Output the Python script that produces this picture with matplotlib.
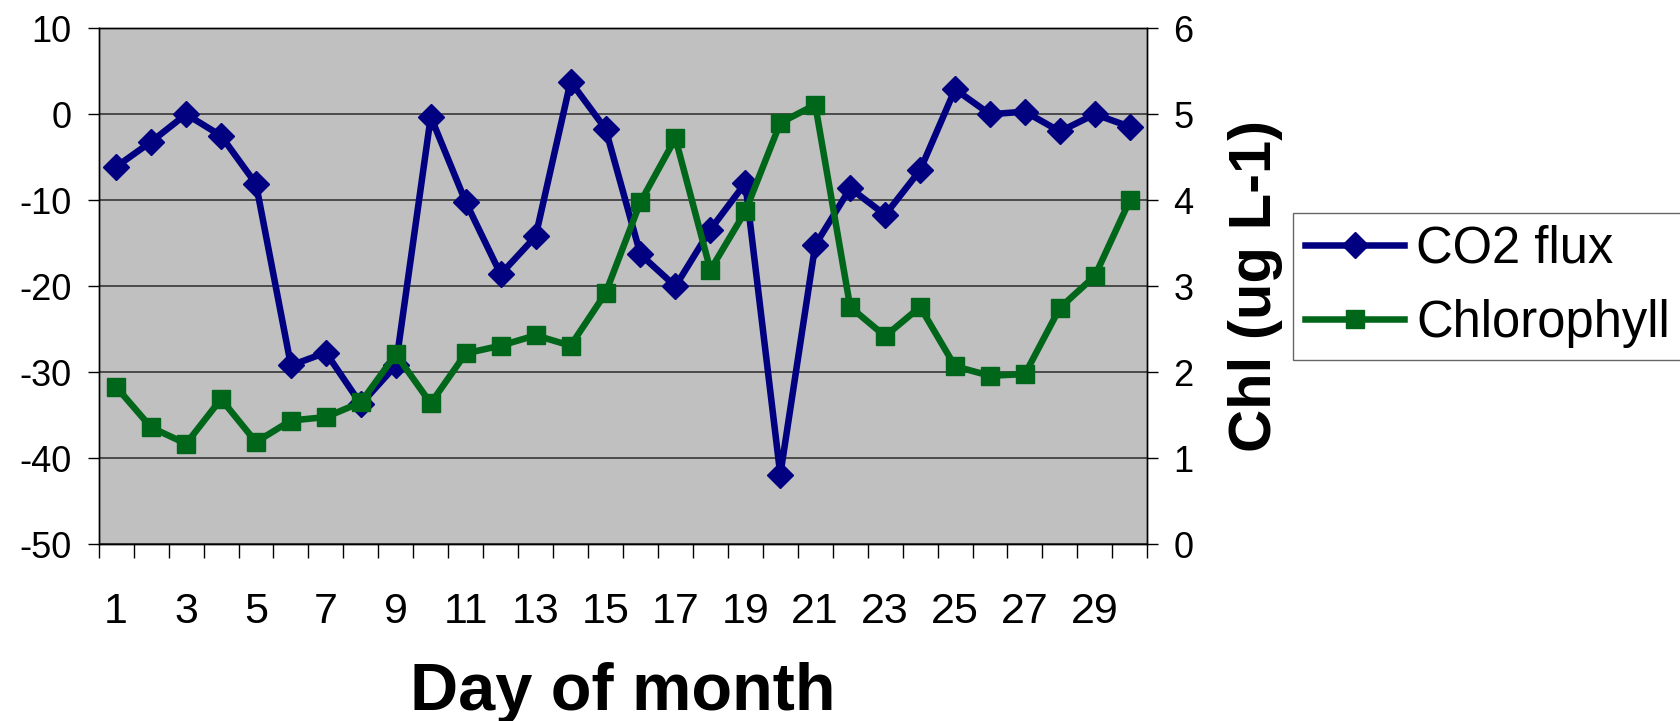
import matplotlib
matplotlib.use("Agg")
import matplotlib.pyplot as plt
from matplotlib.ticker import FixedLocator, NullFormatter

plt.rcParams['font.family'] = ['Liberation Sans', 'DejaVu Sans']
plt.rcParams['axes.unicode_minus'] = False

# Daily observations
days = list(range(1, 31))
co2_flux = [-6.1, -3.2, 0.0, -2.5, -8.1, -29.2, -27.7, -33.7, -29.2, -0.3,
            -10.2, -18.6, -14.2, 3.8, -1.7, -16.3, -20.0, -13.4, -8.0, -41.9,
            -15.2, -8.6, -11.7, -6.5, 2.9, 0.0, 0.3, -2.0, 0.0, -1.45]
chlorophyll = [1.83, 1.36, 1.17, 1.69, 1.19, 1.44, 1.48, 1.65, 2.21, 1.64,
               2.22, 2.31, 2.43, 2.31, 2.92, 3.98, 4.72, 3.19, 3.87, 4.90,
               5.11, 2.76, 2.42, 2.76, 2.07, 1.96, 1.98, 2.75, 3.12, 4.00]
day_labels = [str(d) for d in range(1, 31, 2)]
left_ticks = [10, 0, -10, -20, -30, -40, -50]
right_ticks = [0, 1, 2, 3, 4, 5, 6]

NAVY = '#000080'
GREEN = '#00661a'

W, H = 1681, 721
fig = plt.figure(figsize=(W / 100, H / 100), dpi=100)
ax = fig.add_axes([98.7 / W, 1 - 544.4 / H, (1147.3 - 98.7) / W, (544.4 - 28.2) / H])
ax.set_facecolor('#c0c0c0')
ax2 = ax.twinx()
ax2.set_facecolor('none')

l1, = ax.plot(days, co2_flux, color=NAVY, lw=4.7, marker='D', ms=13.5,
              mfc=NAVY, mec=NAVY, mew=1, label='CO2 flux', zorder=3)
l2, = ax2.plot(days, chlorophyll, color=GREEN, lw=4.7, marker='s', ms=13,
               mfc=GREEN, mec=GREEN, mew=1, label='Chlorophyll', zorder=3)

ax.set_xlim(0.5, 30.5)
ax.set_ylim(-50, 10)
ax2.set_ylim(0, 6)
ax.set_yticks(left_ticks)
ax2.set_yticks(right_ticks)

# category labels at odd days, tick marks at category boundaries
ax.set_xticks(list(range(1, 31, 2)))
ax.set_xticklabels(day_labels)
ax.tick_params(axis='x', which='major', length=0, pad=34, labelsize=31)
ax.xaxis.set_minor_locator(FixedLocator([d + 0.5 for d in range(0, 31)]))
ax.xaxis.set_minor_formatter(NullFormatter())
ax.tick_params(axis='x', which='minor', length=10, width=1, direction='out', color='black')

ax.tick_params(axis='y', length=7.7, width=1, direction='out', pad=12, labelsize=26)
ax2.tick_params(axis='y', length=7.7, width=1, direction='out', pad=11, labelsize=26)

ax.grid(axis='y', color='#2a2a2a', lw=1.1)
ax.set_axisbelow(True)
for a in (ax, ax2):
    for s in a.spines.values():
        s.set_color('black')
        s.set_linewidth(1)

fig.text(623 / W, 1 - 710 / H, 'Day of month', ha='center', va='baseline',
         fontsize=48, fontweight='bold')
fig.text(1256 / W, 1 - 286.3 / H, 'Chl (ug L-1)', ha='center', va='center',
         rotation=90, fontsize=43, fontweight='bold')

leg = fig.legend([l1, l2], ['CO2 flux', 'Chlorophyll'], loc='upper left',
                 bbox_to_anchor=(1292.7 / W, 1 - 212.7 / H), borderaxespad=0,
                 fontsize=36.5, frameon=True, fancybox=False, borderpad=0.24,
                 handlelength=1.96, handletextpad=0.24, labelspacing=0.5)
leg.get_frame().set_edgecolor('#404040')
leg.get_frame().set_linewidth(1)

fig.savefig('out.png', dpi=100)
